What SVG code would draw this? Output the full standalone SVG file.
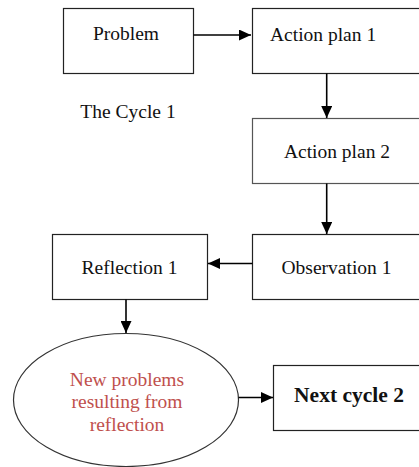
<svg xmlns="http://www.w3.org/2000/svg" width="419" height="467" viewBox="0 0 419 467">
<defs>
<style>
.box{fill:#fff;stroke:#222;stroke-width:1.2}
.t{font-family:"Liberation Serif","Times New Roman",serif;font-size:19.5px;fill:#111}
.c{stroke:#000;stroke-width:1.6;fill:none}
</style>
<marker id="ah" viewBox="0 0 12 11" refX="12" refY="5.5" markerWidth="12" markerHeight="11" markerUnits="userSpaceOnUse" orient="auto">
<path d="M0,0 L12,5.5 L0,11 Z" fill="#000"/>
</marker>
</defs>
<rect width="419" height="467" fill="#fff"/>
<g id="problem"><rect class="box" x="63.5" y="8.5" width="130" height="65"/><text class="t" x="126" y="40" text-anchor="middle">Problem</text></g>
<g id="action1"><rect class="box" x="252.5" y="8.5" width="180" height="65"/><text class="t" x="270" y="41">Action plan 1</text></g>
<g id="cycle-label"><text class="t" x="128" y="118" text-anchor="middle">The Cycle 1</text></g>
<g id="action2"><rect class="box" x="252.5" y="118.5" width="180" height="65" style="stroke:#555"/><text class="t" x="337" y="158" text-anchor="middle">Action plan 2</text></g>
<g id="observation"><rect class="box" x="252.5" y="234.5" width="180" height="65"/><text class="t" x="336.5" y="274" text-anchor="middle">Observation 1</text></g>
<g id="reflection"><rect class="box" x="52.5" y="234.5" width="155" height="65"/><text class="t" x="129.5" y="274" text-anchor="middle">Reflection 1</text></g>
<g id="newproblems"><ellipse cx="126" cy="400" rx="112.5" ry="66.5" fill="#fff" stroke="#333" stroke-width="1.2"/>
<text class="t" text-anchor="middle" style="fill:#C0504D"><tspan x="127" y="385.5">New problems</tspan><tspan x="127" y="408">resulting  from</tspan><tspan x="127" y="430.5">reflection</tspan></text></g>
<g id="next"><rect class="box" x="273.5" y="365.5" width="160" height="65"/><text class="t" x="349" y="402" text-anchor="middle" font-weight="bold" style="font-size:21.5px">Next cycle 2</text></g>
<g id="connectors">
<line class="c" x1="193.5" y1="35" x2="251" y2="35" marker-end="url(#ah)"/>
<line class="c" x1="326.7" y1="73.5" x2="326.7" y2="118" marker-end="url(#ah)"/>
<line class="c" x1="326.7" y1="183.5" x2="326.7" y2="234" marker-end="url(#ah)"/>
<line class="c" x1="252.5" y1="263.5" x2="208" y2="263.5" marker-end="url(#ah)"/>
<line class="c" x1="126" y1="299.5" x2="126" y2="333" marker-end="url(#ah)"/>
<line class="c" x1="238.5" y1="397.5" x2="273" y2="397.5" marker-end="url(#ah)"/>
</g>
</svg>
